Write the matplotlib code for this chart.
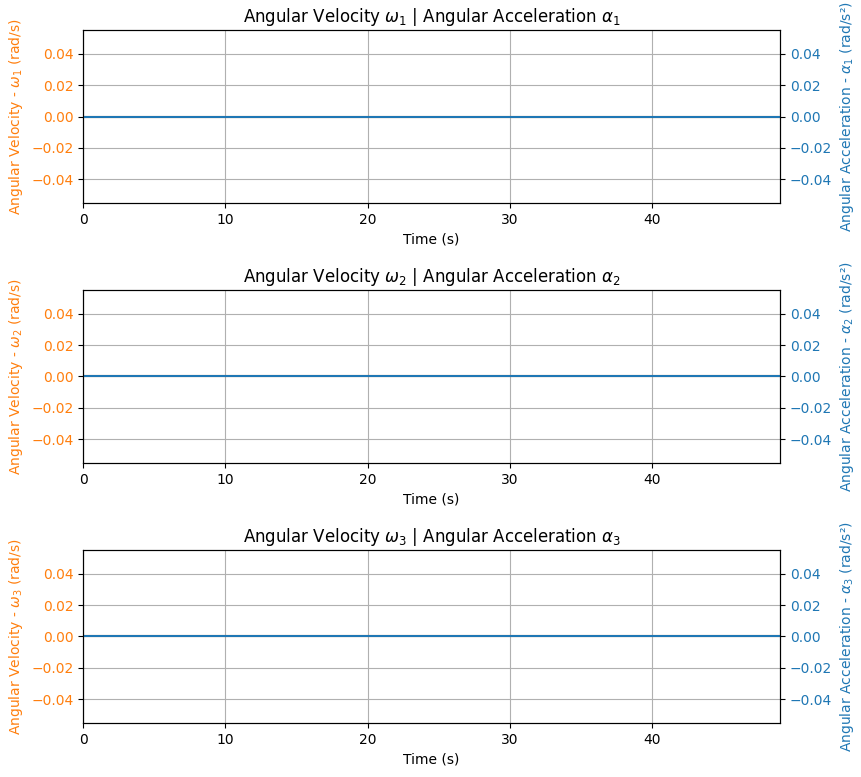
import matplotlib
matplotlib.use('Agg')
import matplotlib.pyplot as plt
import numpy as np

# time samples (s) and the three joints' velocity / acceleration
time = np.arange(0, 50)
omega1 = [0.0] * 50
omega2 = [0.0] * 50
omega3 = [0.0] * 50
alpha1 = [0.0] * 50
alpha2 = [0.0] * 50
alpha3 = [0.0] * 50

omegas = [omega1, omega2, omega3]
alphas = [alpha1, alpha2, alpha3]

c_vel = 'tab:orange'
c_acc = 'tab:blue'

fig = plt.figure(figsize=(8.62, 7.77), dpi=100)
bottoms = [0.7387, 0.4041, 0.0695]

for i in range(3):
    ax = fig.add_axes([0.0963, bottoms[i], 0.8086, 0.2227])
    n = i + 1
    ax.plot(time, omegas[i], color=c_vel)
    ax.set_xlabel('Time (s)')
    ax.set_ylabel(r'Angular Velocity - $\omega_%d$ (rad/s)' % n, color=c_vel)
    ax.tick_params(axis='y', labelcolor=c_vel)
    ax.set_xlim(time[0], time[-1])
    ax.grid(True)

    ax2 = ax.twinx()
    ax2.plot(time, alphas[i], color=c_acc)
    ax2.set_ylabel(r'Angular Acceleration - $\alpha_%d$ (rad/s²)' % n, color=c_acc)
    ax2.tick_params(axis='y', labelcolor=c_acc)

    ax.set_title(r'Angular Velocity $\omega_%d$ | Angular Acceleration $\alpha_%d$' % (n, n))

plt.savefig('out.png')
